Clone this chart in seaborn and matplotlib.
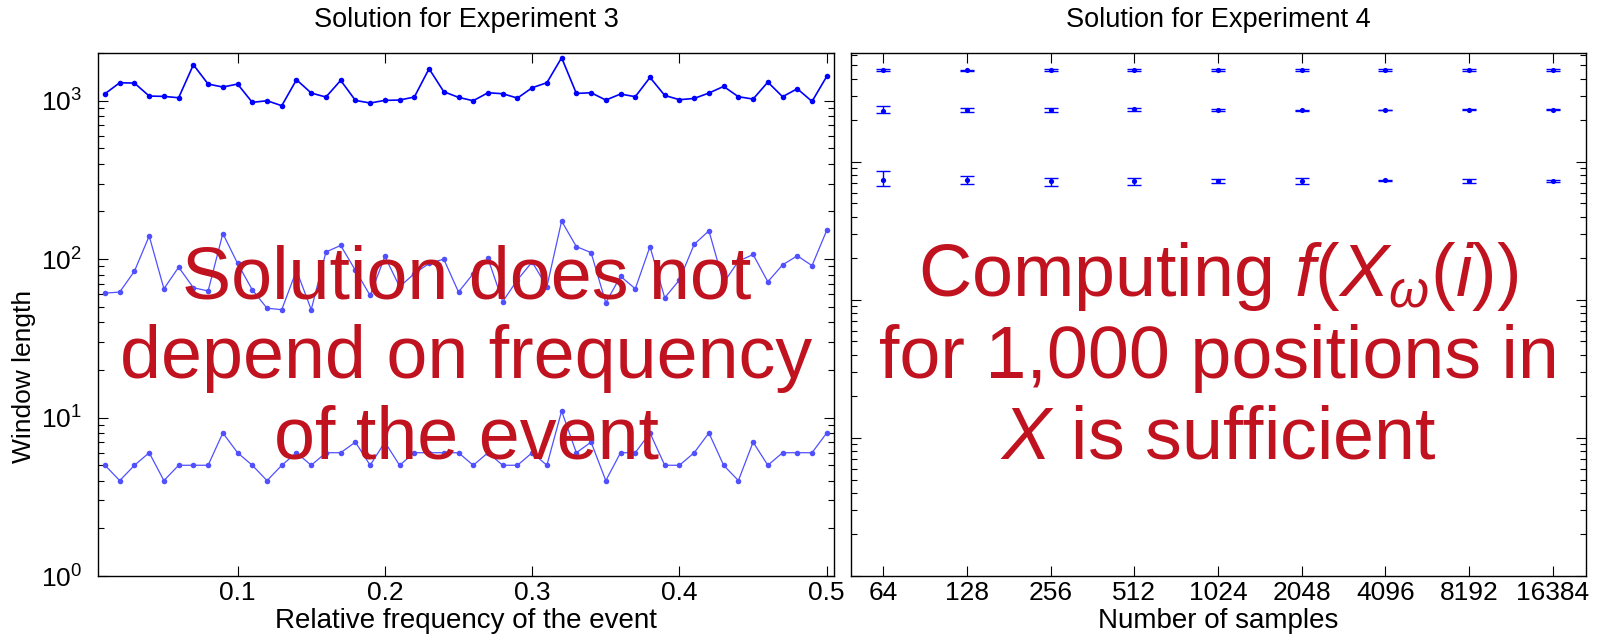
import numpy as np
import pandas as pd
import seaborn as sns
from matplotlib import pyplot as plt
from matplotlib import ticker

sns.set_style("ticks")
plt.rcParams['font.family'] = ['Liberation Sans', 'DejaVu Sans']
plt.rcParams['mathtext.fontset'] = 'custom'
plt.rcParams['mathtext.rm'] = 'Liberation Sans'
plt.rcParams['mathtext.it'] = 'Liberation Sans:italic'
plt.rcParams['mathtext.bf'] = 'Liberation Sans:bold'
plt.rcParams['axes.edgecolor'] = 'black'
plt.rcParams['axes.linewidth'] = 1.0
plt.rcParams['xtick.color'] = 'black'
plt.rcParams['ytick.color'] = 'black'
plt.rcParams['text.color'] = 'black'
plt.rcParams['axes.labelcolor'] = 'black'
plt.rcParams['axes.titlecolor'] = 'black'

# experiment 3: window length vs relative frequency of the event
freq = [0.01, 0.02, 0.03, 0.04, 0.05, 0.06, 0.07, 0.08, 0.09, 0.10,
        0.11, 0.12, 0.13, 0.14, 0.15, 0.16, 0.17, 0.18, 0.19, 0.20,
        0.21, 0.22, 0.23, 0.24, 0.25, 0.26, 0.27, 0.28, 0.29, 0.30,
        0.31, 0.32, 0.33, 0.34, 0.35, 0.36, 0.37, 0.38, 0.39, 0.40,
        0.41, 0.42, 0.43, 0.44, 0.45, 0.46, 0.47, 0.48, 0.49, 0.50]
win_high = [1107, 1299, 1292, 1070, 1065, 1044, 1687, 1274, 1220, 1274,
            976, 1000, 930, 1357, 1118, 1055, 1344, 1005, 967, 1005,
            1010, 1055, 1592, 1140, 1050, 1000, 1123, 1107, 1039, 1208,
            1299, 1868, 1112, 1123, 1010, 1102, 1060, 1403, 1080, 1015,
            1034, 1118, 1231, 1060, 1024, 1311, 1060, 1190, 990, 1424]
win_mid = [61, 62, 84, 140, 65, 89, 66, 63, 145, 94,
           64, 49, 48, 85, 48, 111, 122, 85, 59, 104,
           67, 81, 94, 100, 62, 81, 101, 54, 74, 96,
           67, 174, 120, 110, 53, 78, 65, 120, 57, 74,
           124, 151, 71, 97, 107, 72, 92, 105, 91, 152]
win_low = [5, 4, 5, 6, 4, 5, 5, 5, 8, 6,
           5, 4, 5, 6, 5, 6, 6, 7, 5, 7,
           5, 6, 6, 6, 6, 5, 6, 5, 5, 6,
           5, 11, 6, 7, 4, 6, 6, 8, 5, 5,
           6, 8, 5, 4, 7, 5, 6, 6, 6, 8]

# experiment 4: number of samples, mean with lower/upper bar ends
samples = [64, 128, 256, 512, 1024, 2048, 4096, 8192, 16384]
top_mean = [4645, 4619, 4645, 4645, 4645, 4645, 4645, 4645, 4645]
top_lo = [4595, 4570, 4595, 4595, 4595, 4595, 4595, 4595, 4595]
top_hi = [4695, 4670, 4695, 4695, 4695, 4695, 4695, 4695, 4695]
mid_mean = [2330, 2396, 2396, 2410, 2396, 2369, 2383, 2396, 2383]
mid_lo = [2266, 2317, 2317, 2356, 2343, 2343, 2369, 2369, 2363]
mid_hi = [2547, 2464, 2464, 2450, 2437, 2396, 2396, 2423, 2403]
low_mean = [741, 741, 725, 733, 729, 729, 737, 725, 725]
low_lo = [674, 689, 670, 682, 709, 697, 725, 701, 713]
low_hi = [866, 792, 770, 770, 749, 762, 745, 749, 737]

RED = '#C1121F'
FS = 19


def style_axis(ax):
    ax.tick_params(which='both', direction='in', top=True, right=True,
                   labelsize=FS, width=0.8)
    ax.tick_params(which='major', length=7)
    ax.tick_params(which='minor', length=4)
    ax.tick_params(axis='y', pad=12)
    for s in ax.spines.values():
        s.set_visible(True)
        s.set_color('black')


fig = plt.figure(figsize=(15.97, 6.42), dpi=100)
ax1 = fig.add_axes([0.0616, 0.1028, 0.4607, 0.8146])
ax2 = fig.add_axes([0.5329, 0.1028, 0.4602, 0.8146])

# left panel
df3 = pd.DataFrame({"freq": freq * 3,
                    "win": win_high + win_mid + win_low,
                    "set": ["high"] * 50 + ["mid"] * 50 + ["low"] * 50})
palette = {"high": "#0000FF", "mid": "#5050FF", "low": "#5050FF"}
widths = {"high": 1.2, "mid": 0.9, "low": 0.9}
for key, grp in df3.groupby("set"):
    sns.lineplot(data=grp, x="freq", y="win", ax=ax1, color=palette[key],
                 linewidth=widths[key], marker="o", markersize=4,
                 markeredgewidth=0, estimator=None, sort=False)
ax1.set_yscale('log')
ax1.set_ylim(1, 2000)
ax1.set_xlim(0.0055, 0.505)
ax1.set_xticks([0.1, 0.2, 0.3, 0.4, 0.5])
ax1.set_xticklabels(["0.1", "0.2", "0.3", "0.4", "0.5"])
ax1.set_xlabel("Relative frequency of the event", fontsize=20, labelpad=2)
ax1.set_ylabel("Window length", fontsize=FS)
ax1.yaxis.set_label_coords(-0.085, 0.381)
ax1.set_title("Solution for Experiment 3", fontsize=19.5, pad=19)
style_axis(ax1)
ax1.text(0.5, 0.2256, "Solution does not\ndepend on frequency\nof the event",
         transform=ax1.transAxes, ha='center', va='baseline',
         multialignment='center', fontsize=53, color=RED, zorder=10)

# right panel
df4 = pd.DataFrame({"samples": samples * 3,
                    "mean": top_mean + mid_mean + low_mean,
                    "lo": top_lo + mid_lo + low_lo,
                    "hi": top_hi + mid_hi + low_hi})
ax2.errorbar(df4["samples"], df4["mean"],
             yerr=[df4["mean"] - df4["lo"], df4["hi"] - df4["mean"]],
             fmt='none', ecolor='#0000FF', elinewidth=1.0, capsize=5,
             capthick=1.0)
sns.scatterplot(data=df4, x="samples", y="mean", ax=ax2, color='#0000FF',
                s=14, linewidth=0, zorder=3)
ax2.set_xscale('log', base=2)
ax2.set_yscale('log')
ax2.set_xlim(64 / 2 ** 0.386, 16384 * 2 ** 0.398)
ax2.set_ylim(1, 6150)
ax2.xaxis.set_major_locator(ticker.FixedLocator(samples))
ax2.xaxis.set_major_formatter(ticker.FixedFormatter([str(s) for s in samples]))
ax2.xaxis.set_minor_locator(ticker.NullLocator())
ax2.yaxis.set_major_formatter(ticker.NullFormatter())
ax2.yaxis.set_minor_formatter(ticker.NullFormatter())
ax2.set_xlabel("Number of samples", fontsize=20, labelpad=2)
ax2.set_ylabel("")
ax2.set_title("Solution for Experiment 4", fontsize=19.5, pad=19)
style_axis(ax2)
ax2.text(0.5, 0.2256, "Computing $f(X_{\\omega}(i))$\nfor 1,000 positions in\n$X$ is sufficient",
         transform=ax2.transAxes, ha='center', va='baseline',
         multialignment='center', fontsize=53, color=RED, zorder=10)

fig.savefig("out.png", dpi=100)
